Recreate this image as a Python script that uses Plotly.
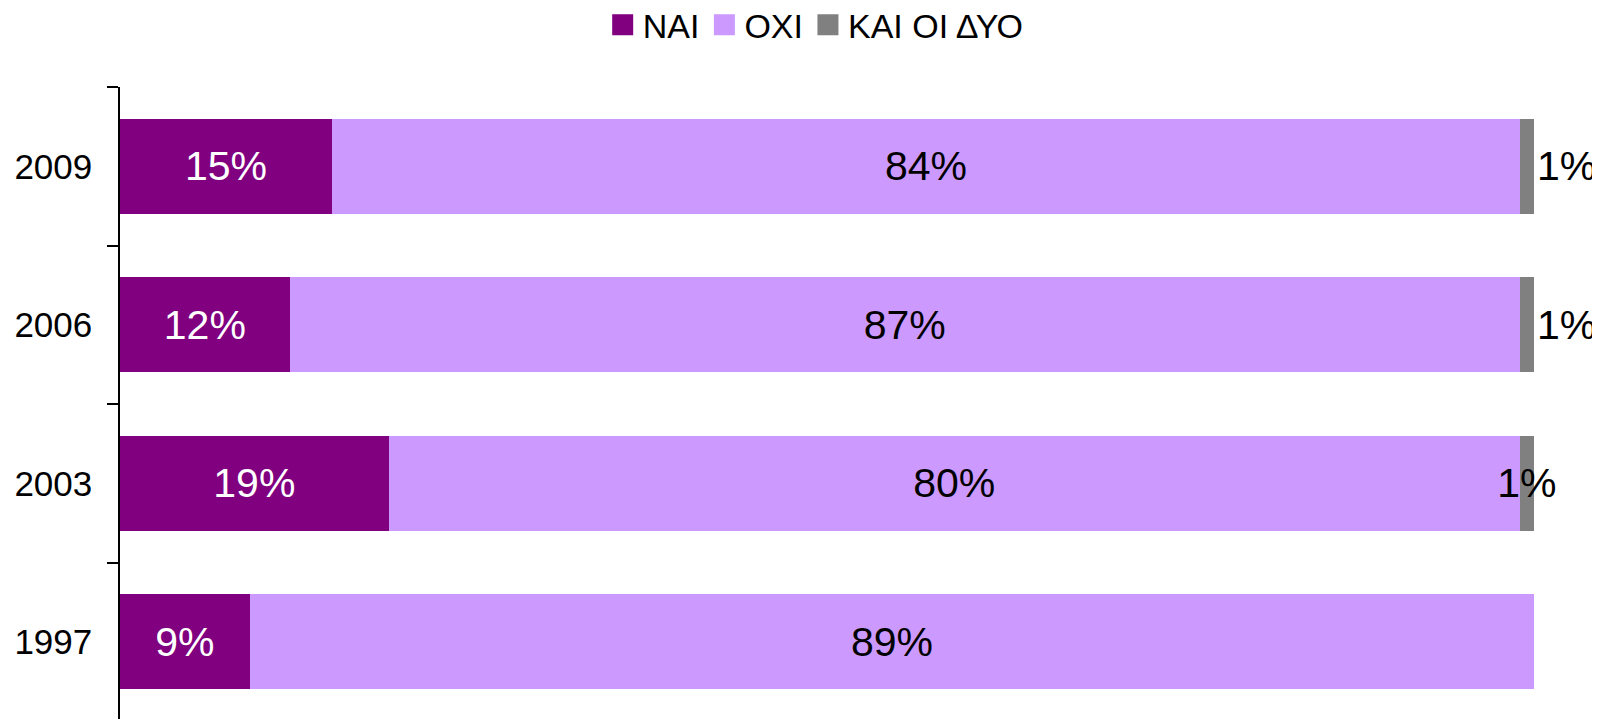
import plotly.graph_objects as go

years = ["1997", "2003", "2006", "2009"]
nai = [9, 19, 12, 15]
oxi = [89, 80, 87, 84]
kai = [0, 1, 1, 1]
series_names = ["NAI", "OXI", "ΚΑΙ ΟΙ ΔΥΟ"]
colors = ["#800080", "#CC99FF", "#808080"]
text_colors = ["white", "black", "black"]

FONT = "Liberation Sans, Arial, sans-serif"
LABEL_SIZE = 41

def labels(vals):
    return [f"{v}%" if v > 0 else "" for v in vals]

fig = go.Figure()
kai_pos = ["inside" if v == 0 else p for v, p in zip(kai, ["inside", "inside", "outside", "outside"])]
for name, vals, col, tcol, pos in [
    (series_names[0], nai, colors[0], text_colors[0], "inside"),
    (series_names[1], oxi, colors[1], text_colors[1], "inside"),
    (series_names[2], kai, colors[2], text_colors[2], kai_pos),
]:
    fig.add_trace(go.Bar(
        y=years, x=vals, orientation="h", name=name,
        marker=dict(color=col, line=dict(width=0)),
        text=labels(vals), textposition=pos, textangle=0,
        insidetextanchor="middle", constraintext="none",
        textfont=dict(color=tcol, size=LABEL_SIZE, family=FONT),
        outsidetextfont=dict(color=tcol, size=LABEL_SIZE, family=FONT),
        insidetextfont=dict(color=tcol, size=LABEL_SIZE, family=FONT),
        cliponaxis=False, showlegend=False, width=0.6,
        hoverinfo="skip",
    ))

# legend entries with larger square swatches
for name, col in zip(series_names, colors):
    fig.add_trace(go.Scatter(
        x=[None], y=[None], mode="markers", name=name,
        marker=dict(symbol="square", size=16, color=col,
                    line=dict(width=5, color=col)),
        showlegend=True,
    ))

fig.update_layout(
    barmode="stack", barnorm="percent",
    width=1600, height=719,
    margin=dict(l=112, r=74, t=79, b=6),
    plot_bgcolor="white", paper_bgcolor="white",
    font=dict(family=FONT, color="black"),
    legend=dict(
        orientation="h", x=0.492, xanchor="center",
        yref="container", y=0.976, yanchor="middle",
        font=dict(size=34, family=FONT), itemwidth=30,
        traceorder="normal", tracegroupgap=0,
    ),
    xaxis=dict(range=[0, 100], visible=False, showgrid=False, zeroline=False),
    yaxis=dict(
        type="category", range=[-0.5, 3.5],
        showline=True, linecolor="black", linewidth=1.5,
        ticks="outside", ticklen=11, tickwidth=1.5, tickcolor="black",
        tickson="boundaries", ticklabelstandoff=19,
        tickfont=dict(size=35, family=FONT, color="black"),
        showgrid=False, zeroline=False,
    ),
)

fig.write_html("out.html")
